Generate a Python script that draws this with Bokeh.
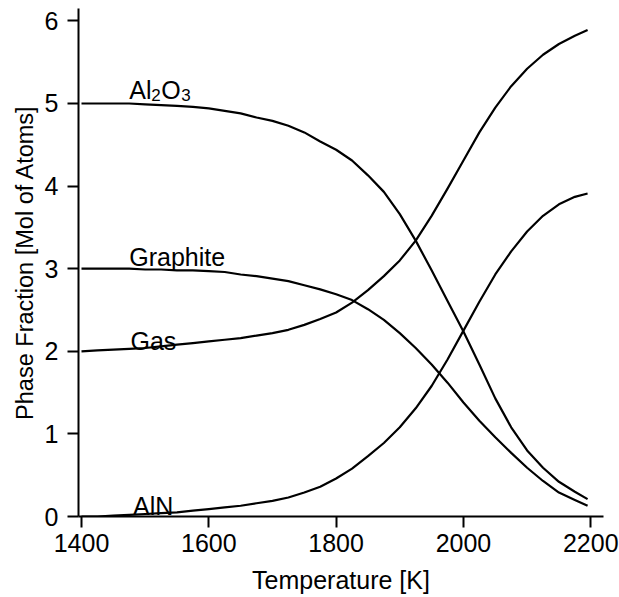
from bokeh.plotting import figure
from bokeh.models import Range1d, FixedTicker, Label
from bokeh.embed import file_html
from bokeh.resources import INLINE

# ---- data ----
temperature = [1400, 1425, 1450, 1475, 1500, 1525, 1550, 1575, 1600,
               1625, 1650, 1675, 1700, 1725, 1750, 1775, 1800,
               1825, 1850, 1875, 1900, 1925, 1950, 1975, 2000,
               2025, 2050, 2075, 2100, 2125, 2150, 2175, 2195]
al2o3 = [5.00, 5.00, 5.00, 5.00, 4.99, 4.98, 4.97, 4.96, 4.94,
         4.91, 4.88, 4.83, 4.79, 4.73, 4.65, 4.54, 4.44,
         4.31, 4.13, 3.93, 3.66, 3.34, 2.98, 2.61, 2.24,
         1.84, 1.43, 1.08, 0.80, 0.59, 0.42, 0.30, 0.21]
graphite = [3.00, 3.00, 3.00, 3.00, 2.99, 2.99, 2.98, 2.98, 2.97,
            2.96, 2.93, 2.91, 2.88, 2.85, 2.80, 2.75, 2.69,
            2.62, 2.51, 2.38, 2.22, 2.04, 1.84, 1.62, 1.38,
            1.16, 0.96, 0.77, 0.59, 0.43, 0.29, 0.20, 0.13]
gas = [2.00, 2.01, 2.02, 2.03, 2.04, 2.06, 2.08, 2.10, 2.12,
       2.14, 2.16, 2.19, 2.22, 2.26, 2.32, 2.39, 2.47,
       2.59, 2.74, 2.91, 3.10, 3.34, 3.64, 3.97, 4.31,
       4.65, 4.95, 5.21, 5.42, 5.59, 5.72, 5.82, 5.89]
aln = [0.00, 0.00, 0.01, 0.02, 0.03, 0.04, 0.05, 0.07, 0.09,
       0.11, 0.13, 0.16, 0.19, 0.23, 0.29, 0.36, 0.46,
       0.58, 0.73, 0.89, 1.08, 1.31, 1.58, 1.90, 2.25,
       2.60, 2.93, 3.21, 3.45, 3.64, 3.78, 3.87, 3.91]

x_ticks = [1400, 1600, 1800, 2000, 2200]
y_ticks = [0, 1, 2, 3, 4, 5, 6]

x_label = "Temperature [K]"
y_label = "Phase Fraction [Mol of Atoms]"

FONT = "Liberation Sans"
FS = "25px"

p = figure(width=619, height=597, output_backend="svg", toolbar_location=None,
           x_range=Range1d(1395.3, 2220), y_range=Range1d(0, 6.15),
           min_border_left=78, min_border_right=16,
           min_border_top=8, min_border_bottom=81)

p.xgrid.visible = False
p.ygrid.visible = False
p.outline_line_color = None
p.background_fill_color = "white"
p.border_fill_color = "white"

p.xaxis.ticker = FixedTicker(ticks=x_ticks)
p.yaxis.ticker = FixedTicker(ticks=y_ticks)
p.xaxis.axis_label = x_label
p.yaxis.axis_label = y_label

for ax in (p.xaxis, p.yaxis):
    ax.axis_line_width = 2
    ax.axis_line_color = "black"
    ax.major_tick_line_width = 2
    ax.major_tick_line_color = "black"
    ax.major_tick_out = 11
    ax.major_tick_in = 0
    ax.minor_tick_out = 0
    ax.minor_tick_in = 0
    ax.major_label_text_font = FONT
    ax.major_label_text_font_size = FS
    ax.major_label_text_color = "black"
    ax.axis_label_text_font = FONT
    ax.axis_label_text_font_size = FS
    ax.axis_label_text_font_style = "normal"
    ax.axis_label_text_color = "black"

p.yaxis.axis_label_text_font_size = "23.5px"
p.xaxis.major_label_standoff = 6
p.xaxis.axis_label_standoff = 11
p.yaxis.major_label_standoff = 9
p.yaxis.axis_label_standoff = 4

for series in (al2o3, graphite, gas, aln):
    p.line(temperature, series, line_color="black", line_width=2.2,
           line_join="round")

def lab(x, y, text, xo=0, yo=0, size=FS):
    p.add_layout(Label(x=x, y=y, text=text, x_offset=xo, y_offset=yo,
                       text_font=FONT, text_font_size=size, text_color="black",
                       text_baseline="alphabetic", text_align="left"))

# Al2O3 with subscripts
lab(1475, 5.165, "Al")
lab(1475, 5.165, "2", xo=22, yo=-5, size="17px")
lab(1475, 5.165, "O", xo=32, size=FS)
lab(1475, 5.165, "3", xo=52, yo=-5, size="17px")

lab(1475, 3.137, "Graphite")
lab(1477, 2.13, "Gas")
lab(1481, 0.133, "AlN")

open("out.html", "w").write(file_html(p, INLINE))
